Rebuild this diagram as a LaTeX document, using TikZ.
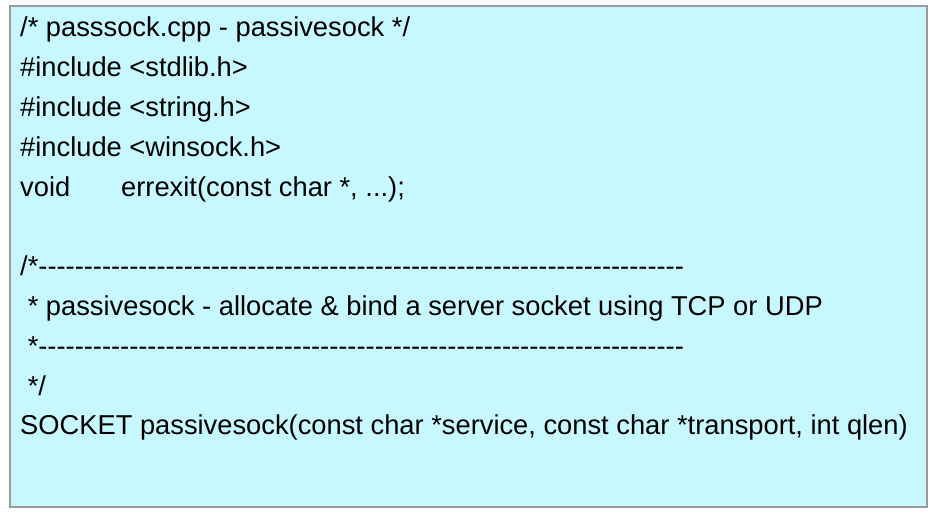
\documentclass[tikz,border=0pt]{standalone}
\usepackage{fontspec}
\setmainfont{Liberation Sans}
\definecolor{codebg}{HTML}{C8F8FF}
\definecolor{codeframe}{HTML}{9A9A9A}
\newcommand\dashrow[1]{\foreach\k in {1,...,#1}{\mbox{-}}}
\tikzset{codeline/.style={anchor=base west,inner sep=0pt,font=\fontsize{27.3}{32}\selectfont}}
\begin{document}
\begin{tikzpicture}[x=1pt,y=1pt]
	\useasboundingbox (0,0) rectangle (934,521);
	\draw [codeframe,fill=codebg,line width=1.2pt] (10,14) rectangle (927,515);
	% header part
	\node [codeline] (l0) at (20,484) {/* passsock.cpp - passivesock */};
	\node [codeline] (l1) at (20,444.2) {\#include <stdlib.h>};
	\node [codeline] (l2) at (20,404.4) {\#include <string.h>};
	\node [codeline] (l3) at (20,364.6) {\#include <winsock.h>};
	\node [codeline] (l4) at (20,324.8) {void};
	\node [codeline] (l4b) at (121,324.8) {errexit(const char *, ...);};
	% comment block and prototype
	\node [codeline] (l6) at (20,245.2) {/*\dashrow{71}};
	\node [codeline] (l7) at (20,205.4) {\ * passivesock - allocate \& bind a server socket using TCP or UDP};
	\node [codeline] (l8) at (20,165.6) {\ *\dashrow{71}};
	\node [codeline] (l9) at (20,125.8) {\ */};
	\node [codeline] (l10) at (20,86) {SOCKET passivesock(const char *service, const char *transport, int qlen)};
\end{tikzpicture}
\end{document}
